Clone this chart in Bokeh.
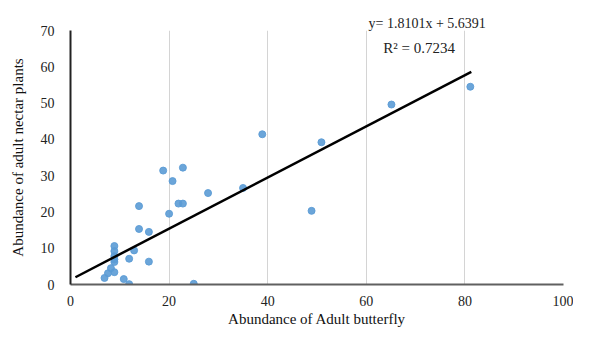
from bokeh.plotting import figure
from bokeh.models import Range1d, Label, FixedTicker, ColumnDataSource
from bokeh.embed import file_html
from bokeh.resources import INLINE

# Data
butterfly = [38.9, 18.8, 22.8, 20.7, 27.9, 35.0, 21.9, 22.8, 13.9, 20.0, 48.9,
             13.9, 15.9, 8.9, 8.9, 8.9, 8.9, 12.9, 11.9, 15.9, 8.9, 8.2, 8.9,
             7.6, 6.9, 10.8, 11.9, 25.0, 50.9, 65.1, 81.1]
nectar = [41.4, 31.4, 32.2, 28.5, 25.2, 26.6, 22.3, 22.3, 21.6, 19.5, 20.3,
          15.3, 14.5, 10.6, 9.2, 7.8, 6.9, 9.4, 7.1, 6.3, 6.2, 4.5, 3.4,
          3.1, 1.8, 1.5, 0.1, 0.2, 39.2, 49.6, 54.5]
trend_x = [1.0, 81.3]
trend_y = [2.0, 58.6]
x_ticks = [0, 20, 40, 60, 80, 100]
y_ticks = [0, 10, 20, 30, 40, 50, 60, 70]
equation = "y= 1.8101x + 5.6391"
r_squared = "R\u00b2 = 0.7234"

FONT = "Liberation Serif"

p = figure(width=573, height=329, output_backend="svg", toolbar_location=None,
           x_range=Range1d(0, 100), y_range=Range1d(0, 70),
           min_border_left=70, min_border_right=10, min_border_top=30,
           min_border_bottom=44)
p.outline_line_color = None
p.background_fill_color = "white"

p.title.text = equation
p.title.text_font = FONT
p.title.text_font_size = "14px"
p.title.text_font_style = "normal"
p.title.text_color = "#222222"
p.title.align = "left"
p.title.offset = 298
p.title.standoff = 0
p.title.vertical_align = "bottom"

p.xaxis.ticker = FixedTicker(ticks=x_ticks)
p.yaxis.ticker = FixedTicker(ticks=y_ticks)
for ax in (p.xaxis[0], p.yaxis[0]):
    ax.major_tick_line_color = None
    ax.minor_tick_line_color = None
    ax.major_label_text_font = FONT
    ax.major_label_text_font_size = "14px"
    ax.major_label_text_color = "#222222"
    ax.axis_label_text_font = FONT
    ax.axis_label_text_font_size = "15px"
    ax.axis_label_text_font_style = "normal"
    ax.axis_label_text_color = "#111111"
    ax.axis_line_width = 2
p.xaxis.axis_line_color = "#606060"
p.yaxis.axis_line_color = "#222222"
p.xaxis.axis_label = "Abundance of Adult butterfly"
p.yaxis.axis_label = "Abundance of adult nectar plants"
p.xaxis.major_label_standoff = 5
p.yaxis.major_label_standoff = 10
p.xaxis.axis_label_standoff = 2
p.yaxis.axis_label_standoff = 12

p.ygrid.grid_line_color = None
p.xgrid.grid_line_color = "#d4d4d4"
p.xgrid.grid_line_width = 1

src = ColumnDataSource(dict(x=butterfly, y=nectar))
p.scatter("x", "y", source=src, size=7, fill_color="#5b9bd5",
          line_color="#5b9bd5", alpha=0.9)
p.line(trend_x, trend_y, line_color="black", line_width=2.5)

p.add_layout(Label(x=70.7, y=65.3, text=r_squared, text_font=FONT,
                   text_font_size="15px", text_align="center",
                   text_baseline="middle", text_color="#222222"))

open("out.html", "w").write(file_html(p, INLINE))
